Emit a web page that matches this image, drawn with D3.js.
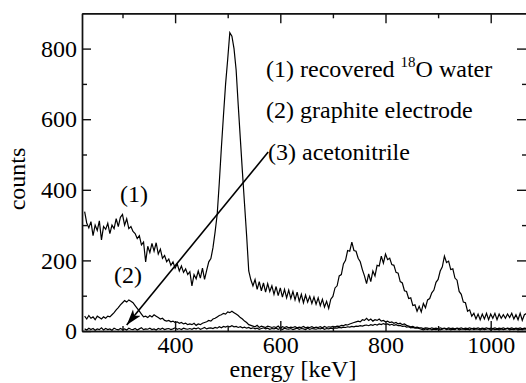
<!DOCTYPE html>
<html><head><meta charset="utf-8">
<script src="https://cdn.jsdelivr.net/npm/d3@7"></script>
<style>
body{margin:0;background:#fff}
svg{display:block}
</style>
</head><body><svg id="c" width="526" height="383"></svg>
<script>
// channel energies (keV), 4 keV bins
const energies = d3.range(228, 1069, 4);

// (1) recovered 18O water
const water = [
338,306,292,310,270,300,285,312,258,296,
288,305,276,300,290,318,296,322,330,300,
318,290,296,282,276,262,270,244,252,196,
240,222,248,226,250,218,232,206,214,196,
204,186,196,178,190,170,184,166,176,160,
168,128,160,148,170,150,178,146,172,196,
205,236,280,330,420,520,612,700,770,845,
835,800,740,640,545,450,360,270,170,145,
128,146,118,140,114,136,110,134,112,128,
104,126,100,122,96,118,94,116,92,112,
88,110,84,104,80,102,82,98,78,96,
76,94,72,90,68,84,64,90,98,122,
128,156,160,190,200,228,226,252,228,226,
206,196,174,156,134,162,140,170,156,186,
184,212,192,218,202,206,188,186,166,164,
140,136,114,112,92,94,72,74,56,70,
54,78,66,88,92,108,116,138,146,170,
182,212,194,198,174,176,150,144,112,104,
82,80,56,60,42,50,34,48,32,48,
34,50,32,48,36,50,32,48,36,46,
36,48,38,50,34,46,32,50,30,46,50
];

// (2) graphite electrode
const graphite = [
42,34,44,36,40,32,42,38,34,40,
36,42,40,46,52,60,66,74,80,86,
82,88,84,80,72,64,56,48,40,42,
38,44,40,46,42,38,34,36,30,28,
30,26,28,24,26,22,24,20,22,18,
20,18,22,16,20,18,22,24,26,30,
28,34,36,40,44,46,50,48,54,52,
56,52,48,44,38,34,28,24,18,16,
14,12,16,10,14,12,10,14,12,10,
12,10,14,8,12,10,12,9,11,10,
12,9,11,10,13,9,11,10,12,9,
11,10,12,9,13,10,12,11,13,12,
14,13,16,15,18,17,20,22,24,26,
28,26,32,30,36,30,34,28,32,30,
34,28,30,26,28,24,26,22,24,20,
22,18,20,16,14,12,13,10,11,9,
9,7,9,8,6,9,7,8,6,9,
7,8,6,9,7,8,6,8,7,9,
6,8,7,9,6,8,7,9,6,8,
7,9,6,8,7,9,6,8,7,9,
6,8,7,9,6,8,7,9,6,8,7
];

// (3) acetonitrile
const acetonitrile = [
6,3,8,4,7,2,6,4,9,3,
7,4,6,2,8,5,3,7,4,6,
3,8,5,4,7,3,6,9,4,6,
5,8,4,6,3,7,5,8,4,6,
7,4,6,9,5,7,4,8,6,5,
7,5,8,6,9,5,7,10,6,8,
9,7,10,8,12,9,13,11,14,12,
15,12,13,10,12,9,11,8,10,7,
9,6,8,5,7,9,6,8,5,7,
6,8,5,7,4,8,6,5,7,4,
6,8,5,7,6,4,8,5,7,6,
5,7,6,8,5,7,6,8,7,9,
8,10,9,11,10,12,11,13,12,14,
13,15,14,16,17,15,18,16,19,17,
20,18,21,19,20,17,19,16,18,15,
16,13,14,11,12,9,10,8,9,7,
5,3,6,4,7,3,5,4,6,3,
5,7,4,6,3,5,4,7,3,5,
6,4,5,3,7,4,6,5,3,6,
4,5,7,3,6,4,5,3,6,4,
5,7,3,5,4,6,3,5,4,6,5
];

const xMajor = [400, 600, 800, 1000];
const xMinor = [300, 500, 700, 900];
const yMajor = [0, 200, 400, 600, 800];
const yMinor = [100, 300, 500, 700];
const xLabel = "energy [keV]";
const yLabel = "counts";
const seriesLabels = ["(1)", "(2)"];
// arrow annotation in data coords: from label (3) to curve (3)
const arrowFrom = [577, 507];
const arrowTo = [308, 17];

const FONT = '"Liberation Serif","Times New Roman","DejaVu Serif",serif';
const L = 82, R = 527, T = 13.3, B = 331;
const x = d3.scaleLinear().domain([223, 1069]).range([L, R]);
const y = d3.scaleLinear().domain([0, 900]).range([B, T]);

const svg = d3.select("#c");

svg.append("clipPath").attr("id", "clip").append("rect")
  .attr("x", L).attr("y", T).attr("width", R - L).attr("height", B - T);

const line = d3.line().x((d, i) => x(energies[i])).y(d => y(d));
const g = svg.append("g").attr("clip-path", "url(#clip)");
[acetonitrile, graphite, water].forEach(s => {
  g.append("path").datum(s).attr("d", line)
    .attr("fill", "none").attr("stroke", "#000").attr("stroke-width", 1.2)
    .attr("stroke-linejoin", "miter");
});

function styleAxis(sel) {
  sel.attr("font-family", null).attr("font-size", null);
  sel.selectAll("path,line").attr("stroke", "#111").attr("stroke-width", 1.4);
  sel.selectAll("text").style("font-size", "24px").style("font-family", FONT).attr("fill", "#000");
}
const fmt = d3.format("d");

svg.append("g").attr("transform", `translate(0,${B})`)
  .call(d3.axisBottom(x).tickValues(xMajor).tickSize(-10).tickSizeOuter(0).tickPadding(5).tickFormat(fmt))
  .call(styleAxis);
svg.append("g").attr("transform", `translate(0,${B})`)
  .call(d3.axisBottom(x).tickValues(xMinor).tickSize(-5).tickSizeOuter(0).tickFormat(""))
  .call(styleAxis);
svg.append("g").attr("transform", `translate(0,${T})`)
  .call(d3.axisTop(x).tickValues(xMajor).tickSize(-10).tickSizeOuter(0).tickFormat(""))
  .call(styleAxis);
svg.append("g").attr("transform", `translate(0,${T})`)
  .call(d3.axisTop(x).tickValues(xMinor).tickSize(-5).tickSizeOuter(0).tickFormat(""))
  .call(styleAxis);
svg.append("g").attr("transform", `translate(${L},0)`)
  .call(d3.axisLeft(y).tickValues(yMajor).tickSize(-9).tickSizeOuter(0).tickPadding(5).tickFormat(fmt))
  .call(styleAxis);
svg.append("g").attr("transform", `translate(${L},0)`)
  .call(d3.axisLeft(y).tickValues(yMinor).tickSize(-5).tickSizeOuter(0).tickFormat(""))
  .call(styleAxis);
svg.append("g").attr("transform", `translate(${R},0)`)
  .call(d3.axisRight(y).tickValues(yMajor).tickSize(-10).tickSizeOuter(0).tickFormat(""))
  .call(styleAxis);
svg.append("g").attr("transform", `translate(${R},0)`)
  .call(d3.axisRight(y).tickValues(yMinor).tickSize(-5).tickSizeOuter(0).tickFormat(""))
  .call(styleAxis);

function txt(xp, yp, s, anchor) {
  return svg.append("text").attr("x", xp).attr("y", yp).attr("text-anchor", anchor || "start")
    .style("font-family", FONT).style("font-size", "24px").attr("fill", "#000").text(s);
}

txt(293, 377, xLabel, "middle");
svg.append("text").attr("transform", "translate(25,179) rotate(-90)").attr("text-anchor", "middle")
  .style("font-family", FONT).style("font-size", "24px").text(yLabel);

txt(134, 202, seriesLabels[0], "middle");
txt(128, 283, seriesLabels[1], "middle");

const t1 = svg.append("text").attr("x", 266).attr("y", 77)
  .style("font-family", FONT).style("font-size", "24px");
t1.append("tspan").text("(1) recovered ");
t1.append("tspan").attr("dy", -10).style("font-size", "15px").text("18");
t1.append("tspan").attr("dy", 10).text("O water");
txt(266, 118, "(2) graphite electrode");
txt(268, 160, "(3) acetonitrile");

const defs = svg.append("defs");
defs.append("marker").attr("id", "ah").attr("markerUnits", "userSpaceOnUse")
  .attr("markerWidth", 18).attr("markerHeight", 12).attr("refX", 16).attr("refY", 5)
  .attr("orient", "auto")
  .append("path").attr("d", "M0,0 L16,5 L0,10 L4,5 Z").attr("fill", "#000");
svg.append("line")
  .attr("x1", x(arrowFrom[0])).attr("y1", y(arrowFrom[1]))
  .attr("x2", x(arrowTo[0])).attr("y2", y(arrowTo[1]))
  .attr("stroke", "#000").attr("stroke-width", 1.6).attr("marker-end", "url(#ah)");
</script>
</body></html>
